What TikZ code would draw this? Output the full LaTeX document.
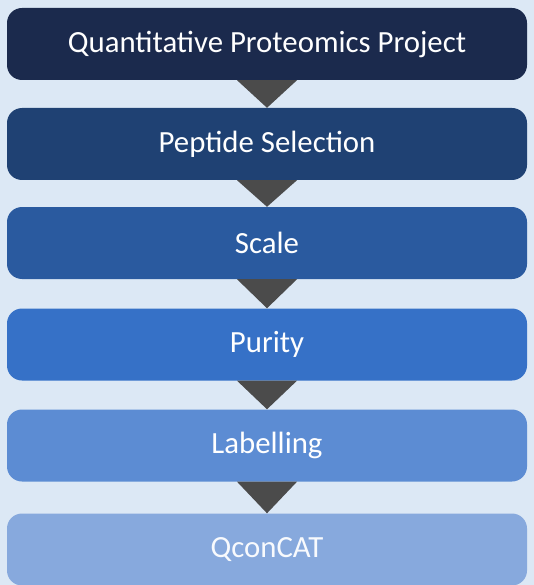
\documentclass[tikz,border=0pt]{standalone}
\usepackage{fontspec}
\setmainfont{Carlito}
\usetikzlibrary{calc}

\definecolor{bgblue}{HTML}{DCE8F5}
\definecolor{arrowgray}{HTML}{4B4B4B}
\definecolor{boxA}{HTML}{1B2A4D}
\definecolor{boxB}{HTML}{1F4173}
\definecolor{boxC}{HTML}{2A5A9F}
\definecolor{boxD}{HTML}{3671C7}
\definecolor{boxE}{HTML}{5C8CD3}
\definecolor{boxF}{HTML}{87A9DD}

\begin{document}
\begin{tikzpicture}[x=1pt,y=-1pt]
            \tikzset{StepBox/.style={rectangle,rounded corners=15pt,minimum width=520pt,minimum height=72pt,inner sep=0pt,text=white,font=\fontsize{30.8}{36}\selectfont}};
            \tikzset{StepArrow/.style={fill=arrowgray}};

            \fill[bgblue] (0,0) rectangle (534,585);
            \useasboundingbox (0,0) rectangle (534,585);

            \node[StepBox,fill=boxA] (project) at (267,44) {Quantitative Proteomics Project};
            \node[StepBox,fill=boxB] (selection) at (267,144) {Peptide Selection};
            \node[StepBox,fill=boxC] (scale) at (267,243) {Scale};
            \node[StepBox,fill=boxD] (purity) at (267,344.5) {Purity};
            \node[StepBox,fill=boxE] (labelling) at (267,445.5) {Labelling};
            \node[StepBox,fill=boxF,text=white!94!boxF] (qconcat) at (267,549.5) {QconCAT};

            \fill[StepArrow] ($(project.south)+(-30,0)$) -- ($(project.south)+(30,0)$) -- (selection.north) -- cycle;
            \fill[StepArrow] ($(selection.south)+(-30,0)$) -- ($(selection.south)+(30,0)$) -- (scale.north) -- cycle;
            \fill[StepArrow] ($(scale.south)+(-30,0)$) -- ($(scale.south)+(30,0)$) -- (purity.north) -- cycle;
            \fill[StepArrow] ($(purity.south)+(-30,0)$) -- ($(purity.south)+(30,0)$) -- (labelling.north) -- cycle;
            \fill[StepArrow] ($(labelling.south)+(-30,0)$) -- ($(labelling.south)+(30,0)$) -- (qconcat.north) -- cycle;
          \end{tikzpicture}
\end{document}
